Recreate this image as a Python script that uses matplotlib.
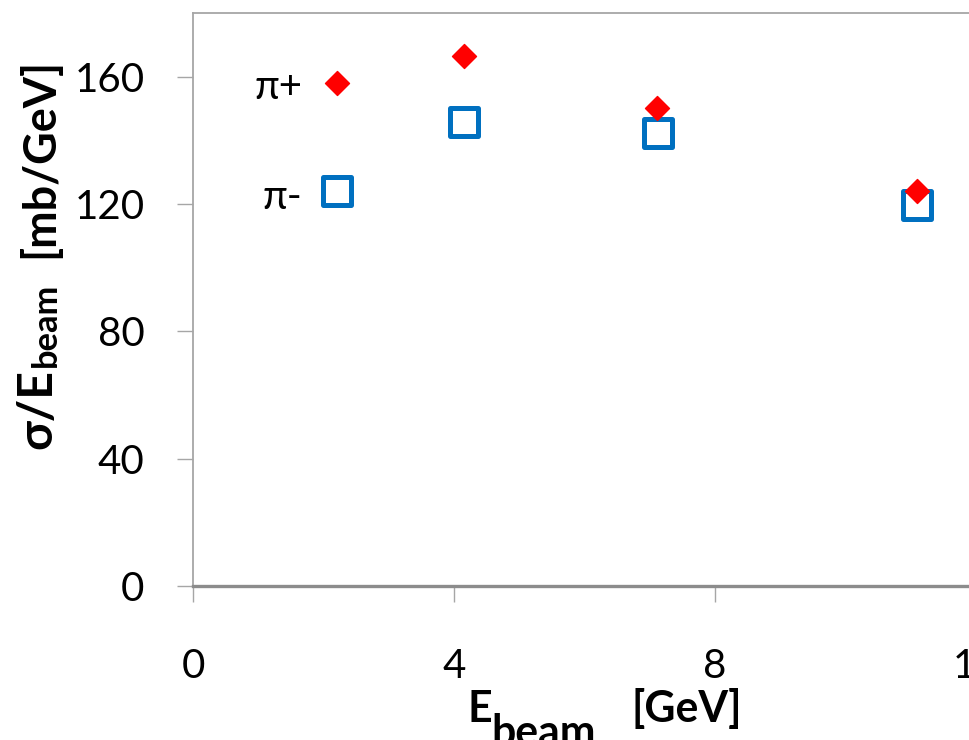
import matplotlib
matplotlib.use("Agg")
import matplotlib.pyplot as plt
from matplotlib.markers import MarkerStyle

# ---- data ----
pi_plus_x = [2.20, 4.15, 7.11, 11.09]
pi_plus_y = [158.0, 166.4, 150.2, 124.0]
pi_minus_x = [2.21, 4.15, 7.12, 11.09]
pi_minus_y = [124.2, 145.8, 142.3, 119.8]
x_ticks = [0, 4, 8, 12]
y_ticks = [0, 40, 80, 120, 160]
series_labels = ["\u03c0+", "\u03c0-"]

W, H = 970, 740
plt.rcParams['font.family'] = ['Lato', 'DejaVu Sans']
fig = plt.figure(figsize=(W / 100, H / 100), dpi=100)
renderer = fig.canvas.get_renderer()


def fit_size(s, target_px, weight='normal', base=30.0):
    t = fig.text(0, 0, s, fontsize=base, fontweight=weight)
    w = t.get_window_extent(renderer).width
    t.remove()
    return base * target_px / w


tick_fs = fit_size('160', 70)

ax = fig.add_axes([193 / W, 1 - 586 / H, (976 - 193) / W, (586 - 13) / H])

red = '#FF0000'
blue = '#0070C0'
ax.plot(pi_plus_x, pi_plus_y, linestyle='none',
        marker=MarkerStyle('D', joinstyle='round'), ms=12.5,
        color=red, mec=red, mew=1, zorder=3)
ax.plot(pi_minus_x, pi_minus_y, linestyle='none',
        marker=MarkerStyle('s', joinstyle='round'), ms=19.5,
        mfc='none', mec=blue, mew=3.6, zorder=2)

ax.set_xlim(0, 12)
ax.set_ylim(0, 180)
ax.set_xticks(x_ticks)
ax.set_yticks(y_ticks)
ax.set_xticklabels([str(v) for v in x_ticks])
ax.set_yticklabels([str(v) for v in y_ticks])

grey = '#A6A6A6'
for side in ['left', 'top', 'right']:
    ax.spines[side].set_color(grey)
    ax.spines[side].set_linewidth(1.3)
ax.spines['bottom'].set_color('#8C8C8C')
ax.spines['bottom'].set_linewidth(2.4)
ax.tick_params(axis='both', direction='out', length=11.5, width=1.0,
               color=grey, labelsize=tick_fs, labelcolor='black')
ax.tick_params(axis='y', pad=23.5)
ax.tick_params(axis='x', pad=33)

# series labels
ax.text(1.68, 156.6, series_labels[0], ha='right', va='center', fontsize=tick_fs)
ax.text(1.68, 122.0, series_labels[1], ha='right', va='center', fontsize=tick_fs)


def ftext(x, y, s, **kw):
    return fig.text(x / W, 1 - y / H, s, **kw)


# x label
xl_fs = fit_size('[GeV]', 110, weight='bold')
lab = dict(fontweight='bold', color='black')
ftext(468, 722, 'E', ha='left', va='baseline', fontsize=xl_fs, **lab)
ftext(491, 746, 'beam', ha='left', va='baseline', fontsize=xl_fs, **lab)
ftext(632, 722, '[GeV]', ha='left', va='baseline', fontsize=xl_fs, **lab)

# y label (rotated)
rot = dict(rotation=90, rotation_mode='anchor', ha='left', va='baseline')
ftext(51, 449, '\u03c3/E', fontsize=fit_size('\u03c3/E', 80, 'bold'), **rot, **lab)
ftext(56, 367, 'beam', fontsize=fit_size('beam', 84, 'bold'), **rot, **lab)
ftext(53, 258, '[mb/GeV]', fontsize=fit_size('[mb/GeV]', 200, 'bold'), **rot, **lab)

fig.savefig('out.png', dpi=100)
